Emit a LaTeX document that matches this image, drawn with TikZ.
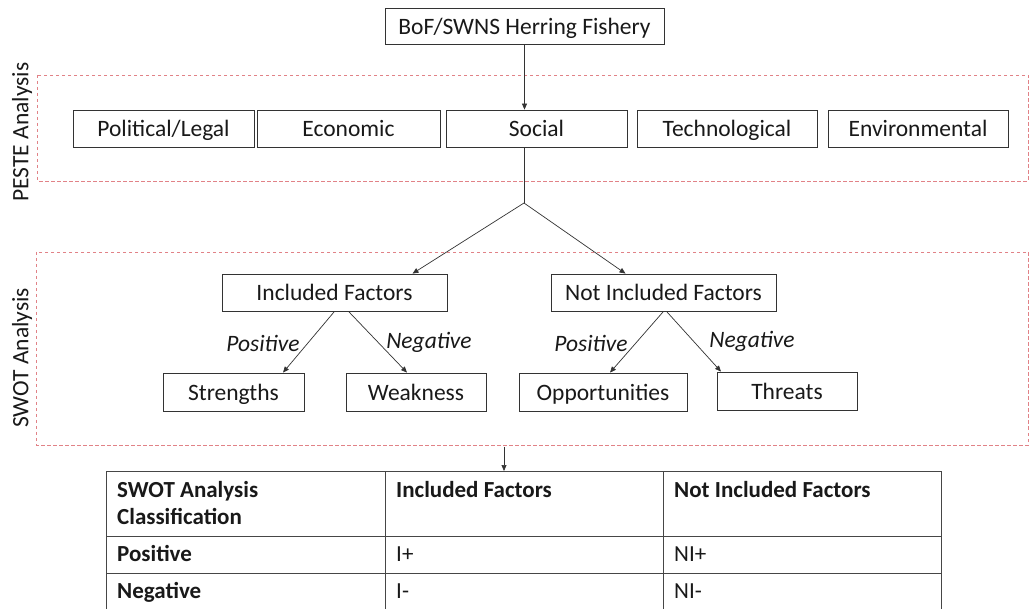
\documentclass[tikz,border=0pt]{standalone}
\usepackage{fontspec}
\setmainfont{Carlito}
\usetikzlibrary{arrows.meta}
\definecolor{dashred}{RGB}{225,130,135}
\definecolor{tline}{RGB}{70,70,70}
\tikzset{
  box/.style={draw=black!80, line width=0.8pt, inner sep=0pt, align=center,
    text height=17pt, text depth=0pt,
    font=\fontsize{23.5}{27}\selectfont, text=black!90},
  zone/.style={draw=dashred, dashed, dash pattern=on 3.5pt off 2.5pt, line width=0.6pt},
  side/.style={rotate=90, font=\fontsize{23.5}{27}\selectfont, text=black!90},
  conn/.style={draw=black!80, line width=0.7pt},
  arr/.style={conn, -{Triangle[length=6pt,width=5pt]}},
  lbl/.style={font=\fontsize{23.5}{27}\itshape\selectfont, text=black!90},
  tl/.style={draw=tline, line width=1pt},
  th/.style={anchor=base west, inner sep=0pt, font=\fontsize{23}{27}\bfseries\selectfont, text=black!90},
  td/.style={anchor=base west, inner sep=0pt, font=\fontsize{23}{27}\selectfont, text=black!90}
}
\begin{document}
\begin{tikzpicture}[x=1pt,y=-1pt]
\useasboundingbox[fill=white] (0,0) rectangle (1031,609);

% dashed zones
\draw[zone] (37,75) rectangle (1028,181);
\draw[zone] (36,252) rectangle (1028,445);
\node[side] (pestelbl) at (22,132) {PESTE Analysis};
\node[side] (swotlbl) at (22,358) {SWOT Analysis};

% top
\node[box, minimum width=279pt, minimum height=36pt] (top) at (524.5,26) {BoF/SWNS Herring Fishery};

% PESTE boxes
\node[box, minimum width=181pt, minimum height=37pt] (pol) at (163.5,128.5) {Political/Legal};
\node[box, minimum width=183pt, minimum height=37pt] (eco) at (348.5,128.5) {Economic};
\node[box, minimum width=181pt, minimum height=37pt] (soc) at (536.5,128.5) {Social};
\node[box, minimum width=180pt, minimum height=37pt] (tec) at (727,128.5) {Technological};
\node[box, minimum width=180pt, minimum height=37pt] (env) at (918,128.5) {Environmental};

% SWOT boxes
\node[box, minimum width=225pt, minimum height=37pt] (inc) at (334.5,292.5) {Included Factors};
\node[box, minimum width=225pt, minimum height=37pt] (ninc) at (663.5,292.5) {Not Included Factors};
\node[box, minimum width=141pt, minimum height=38pt] (str) at (233.5,392) {Strengths};
\node[box, minimum width=140pt, minimum height=38pt] (wea) at (416,392) {Weakness};
\node[box, minimum width=168pt, minimum height=38pt] (opp) at (603,392) {Opportunities};
\node[box, minimum width=140pt, minimum height=38pt] (thr) at (787,391) {Threats};

% connectors
\draw[arr] (top.south) -- (top.south |- soc.north);
\coordinate (j) at (524,203);
\draw[conn] (soc.south -| j) -- (j);
\draw[arr] (j) -- ([xshift=78pt]inc.north);
\draw[arr] (j) -- ([xshift=-38pt]ninc.north);

\draw[arr] (inc.south) -- ([xshift=49.5pt]str.north);
\draw[arr] ([xshift=14pt]inc.south) -- ([xshift=-9pt]wea.north);
\draw[arr] (ninc.south) -- ([xshift=7pt]opp.north);
\draw[arr] ([xshift=3pt]ninc.south) -- ([xshift=-66pt]thr.north);

\node[lbl] (p1) at (263,343) {Positive};
\node[lbl] (n1) at (429,342) {Negative};
\node[lbl] (p2) at (591,343) {Positive};
\node[lbl] (n2) at (752,341) {Negative};

% table
\draw[tl] (106,471) -- (941,471);
\draw[tl] (106,536) -- (941,536);
\draw[tl] (106,573) -- (941,573);
\draw[tl] (106,471) -- (106,609);
\draw[tl] (385,471) -- (385,609);
\draw[tl] (663,471) -- (663,609);
\draw[tl] (941,471) -- (941,609);

\coordinate (tabtop) at (504,471);
\coordinate (swotbot) at (504,447);
\draw[arr] (swotbot) -- (tabtop);

\node[th] (h1) at (117,497) {SWOT Analysis};
\node[th] (h1b) at (117,524) {Classification};
\node[th] (h2) at (396,497) {Included Factors};
\node[th] (h3) at (674,497) {Not Included Factors};
\node[th] (r1) at (117,561) {Positive};
\node[td] (r1a) at (396,561) {I+};
\node[td] (r1b) at (674,561) {NI+};
\node[th] (r2) at (117,598) {Negative};
\node[td] (r2a) at (396,598) {I-};
\node[td] (r2b) at (674,598) {NI-};
\end{tikzpicture}
\end{document}
